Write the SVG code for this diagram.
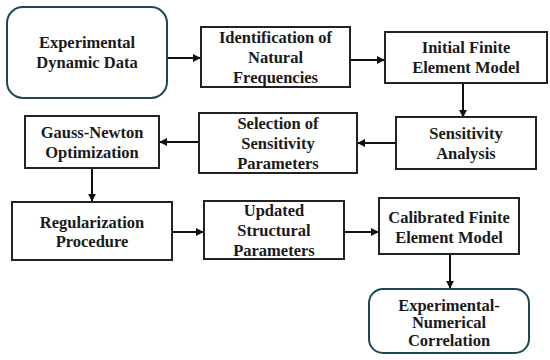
<svg xmlns="http://www.w3.org/2000/svg" width="550" height="360" viewBox="0 0 550 360">
<style>
.box{fill:#fff;stroke:#222;stroke-width:2}
.rbox{fill:#fff;stroke:#1d4756;stroke-width:2}
.c{stroke:#111;stroke-width:2;fill:none;marker-end:url(#ah)}
</style>
<defs>
<marker id="ah" viewBox="0 0 10 10" refX="9" refY="5" markerWidth="4" markerHeight="4" orient="auto" markerUnits="strokeWidth">
<path d="M0,0 L10,5 L0,10 z" fill="#111"/>
</marker>
</defs>
<rect width="550" height="360" fill="#fff"/>
<g id="connectors">
<line class="c" x1="167" y1="58" x2="200" y2="58"/>
<line class="c" x1="350" y1="60" x2="384" y2="60"/>
<line class="c" x1="463" y1="83" x2="463" y2="117"/>
<line class="c" x1="396" y1="143" x2="358" y2="143"/>
<line class="c" x1="199" y1="142" x2="160" y2="142"/>
<line class="c" x1="92" y1="168" x2="92" y2="201"/>
<line class="c" x1="172" y1="232" x2="203" y2="232"/>
<line class="c" x1="344" y1="232" x2="378" y2="232"/>
<line class="c" x1="450" y1="254" x2="450" y2="288"/>
</g>
<g id="n1">
<rect class="rbox" x="7" y="7" width="160" height="91" rx="16"/>
<text font-family="Liberation Serif" font-weight="bold" font-size="16.5" fill="#1a1a1a" text-anchor="middle" x="87" y="48">Experimental</text>
<text font-family="Liberation Serif" font-weight="bold" font-size="16.5" fill="#1a1a1a" text-anchor="middle" x="87" y="68">Dynamic Data</text>
</g>
<g id="n2">
<rect class="box" x="201" y="27" width="149" height="60"/>
<text font-family="Liberation Serif" font-weight="bold" font-size="16.5" fill="#1a1a1a" text-anchor="middle" x="275.5" y="43">Identification of</text>
<text font-family="Liberation Serif" font-weight="bold" font-size="16.5" fill="#1a1a1a" text-anchor="middle" x="275.5" y="63">Natural</text>
<text font-family="Liberation Serif" font-weight="bold" font-size="16.5" fill="#1a1a1a" text-anchor="middle" x="275.5" y="83">Frequencies</text>
</g>
<g id="n3">
<rect class="box" x="385" y="32" width="162" height="51"/>
<text font-family="Liberation Serif" font-weight="bold" font-size="16.5" fill="#1a1a1a" text-anchor="middle" x="466" y="53">Initial Finite</text>
<text font-family="Liberation Serif" font-weight="bold" font-size="16.5" fill="#1a1a1a" text-anchor="middle" x="466" y="73">Element Model</text>
</g>
<g id="n4">
<rect class="box" x="396" y="117" width="140" height="52"/>
<text font-family="Liberation Serif" font-weight="bold" font-size="16.5" fill="#1a1a1a" text-anchor="middle" x="466" y="138.5">Sensitivity</text>
<text font-family="Liberation Serif" font-weight="bold" font-size="16.5" fill="#1a1a1a" text-anchor="middle" x="466" y="158.5">Analysis</text>
</g>
<g id="n5">
<rect class="box" x="199" y="113" width="158" height="60"/>
<text font-family="Liberation Serif" font-weight="bold" font-size="16.5" fill="#1a1a1a" text-anchor="middle" x="278" y="128.5">Selection of</text>
<text font-family="Liberation Serif" font-weight="bold" font-size="16.5" fill="#1a1a1a" text-anchor="middle" x="278" y="148.5">Sensitivity</text>
<text font-family="Liberation Serif" font-weight="bold" font-size="16.5" fill="#1a1a1a" text-anchor="middle" x="278" y="168.5">Parameters</text>
</g>
<g id="n6">
<rect class="box" x="25" y="116" width="134" height="52"/>
<text font-family="Liberation Serif" font-weight="bold" font-size="16.5" fill="#1a1a1a" text-anchor="middle" x="92" y="137.5">Gauss-Newton</text>
<text font-family="Liberation Serif" font-weight="bold" font-size="16.5" fill="#1a1a1a" text-anchor="middle" x="92" y="157.5">Optimization</text>
</g>
<g id="n7">
<rect class="box" x="12" y="202" width="160" height="58"/>
<text font-family="Liberation Serif" font-weight="bold" font-size="16.5" fill="#1a1a1a" text-anchor="middle" x="92" y="227.5">Regularization</text>
<text font-family="Liberation Serif" font-weight="bold" font-size="16.5" fill="#1a1a1a" text-anchor="middle" x="92" y="247">Procedure</text>
</g>
<g id="n8">
<rect class="box" x="204" y="201" width="140" height="58"/>
<text font-family="Liberation Serif" font-weight="bold" font-size="16.5" fill="#1a1a1a" text-anchor="middle" x="274" y="215.5">Updated</text>
<text font-family="Liberation Serif" font-weight="bold" font-size="16.5" fill="#1a1a1a" text-anchor="middle" x="274" y="235.5">Structural</text>
<text font-family="Liberation Serif" font-weight="bold" font-size="16.5" fill="#1a1a1a" text-anchor="middle" x="274" y="255.5">Parameters</text>
</g>
<g id="n9">
<rect class="box" x="379" y="198" width="140" height="56"/>
<text font-family="Liberation Serif" font-weight="bold" font-size="16.5" fill="#1a1a1a" text-anchor="middle" x="449" y="222.5">Calibrated Finite</text>
<text font-family="Liberation Serif" font-weight="bold" font-size="16.5" fill="#1a1a1a" text-anchor="middle" x="449" y="242.5">Element Model</text>
</g>
<g id="n10">
<rect class="rbox" x="369" y="289" width="160" height="64" rx="14"/>
<text font-family="Liberation Serif" font-weight="bold" font-size="16.5" fill="#1a1a1a" text-anchor="middle" x="449" y="310.5">Experimental-</text>
<text font-family="Liberation Serif" font-weight="bold" font-size="16.5" fill="#1a1a1a" text-anchor="middle" x="449" y="328">Numerical</text>
<text font-family="Liberation Serif" font-weight="bold" font-size="16.5" fill="#1a1a1a" text-anchor="middle" x="449" y="345.5">Correlation</text>
</g>
</svg>
